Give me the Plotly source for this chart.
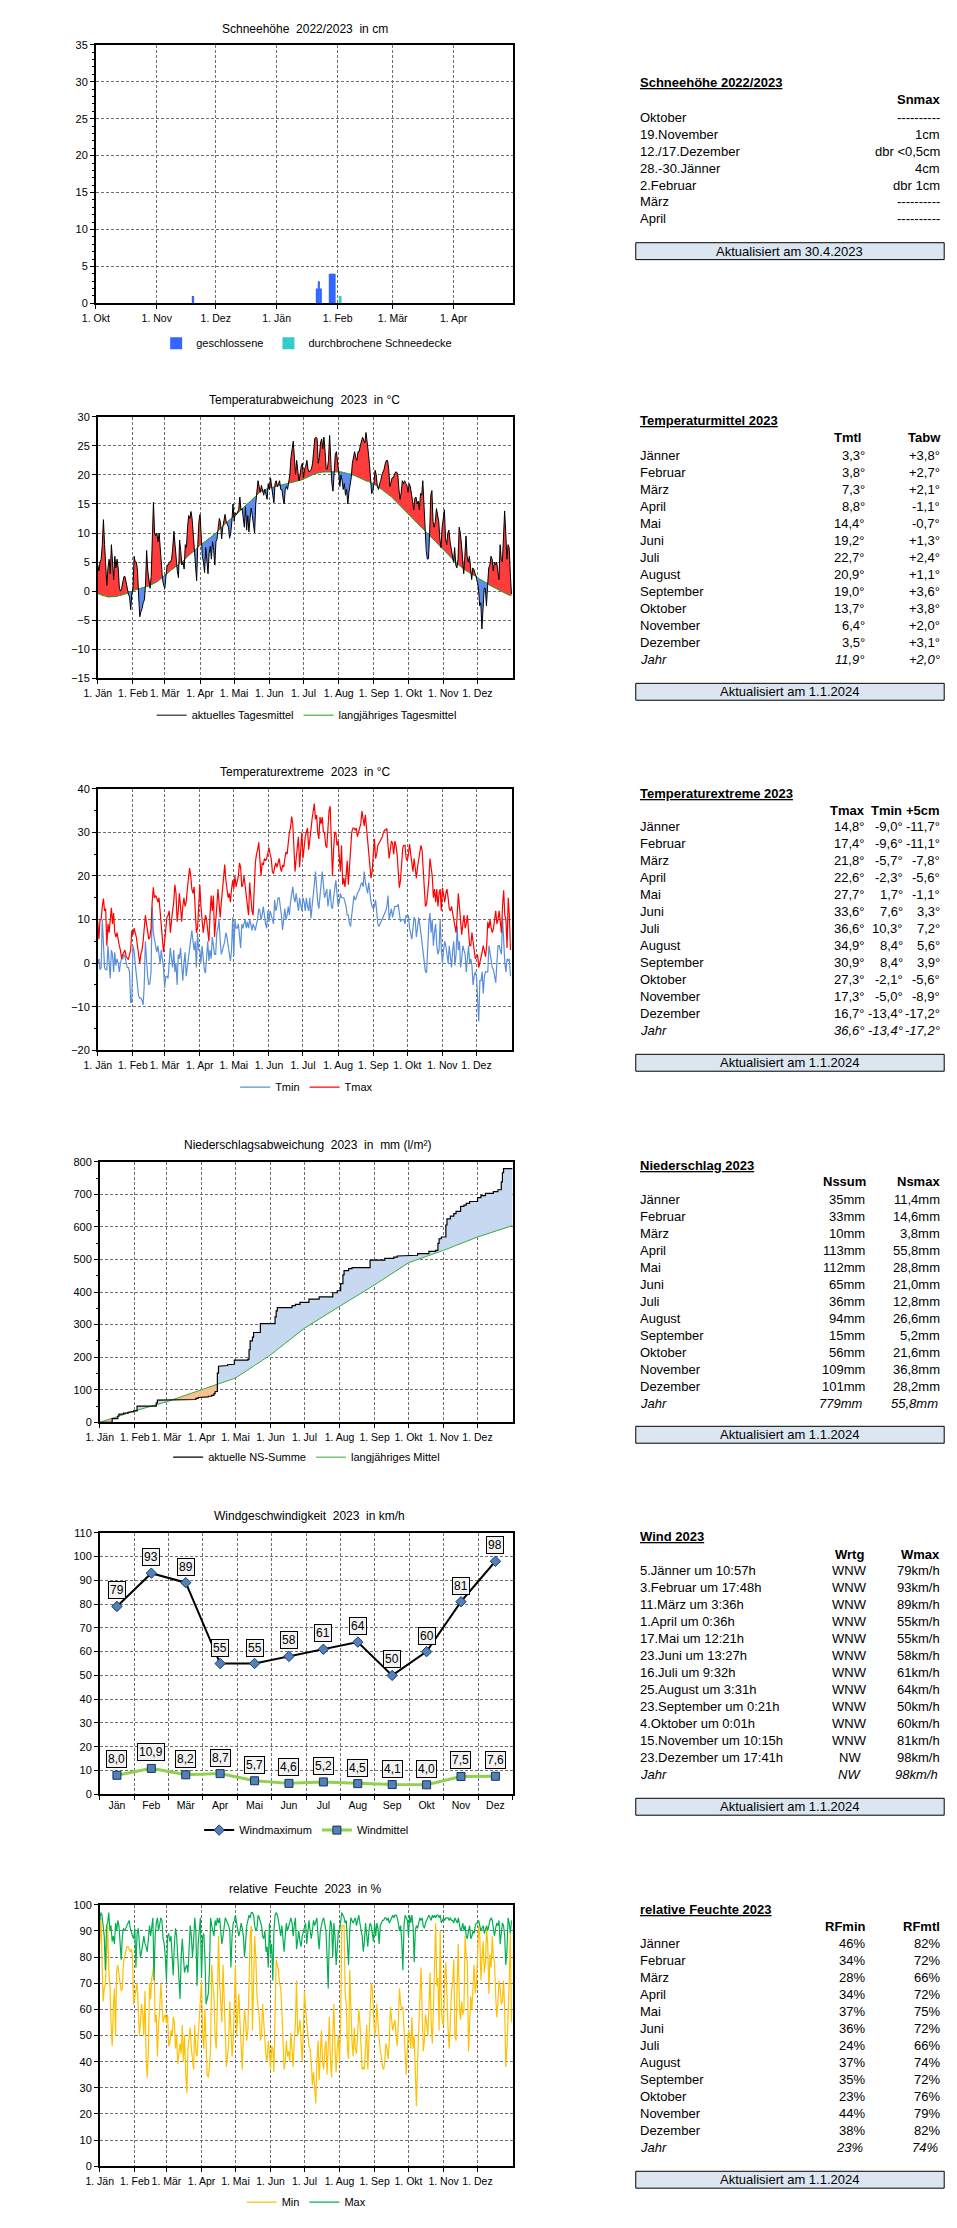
import numpy as np
import pandas as pd
import plotly.graph_objects as go

W, H = 957, 2228
FONT_CHART = "Liberation Sans Narrow, Arial Narrow, Liberation Sans, Arial, sans-serif"
FONT_TABLE = "Liberation Sans, Arial, sans-serif"

# ------------------------------------------------------------------ data
snow_tickvals = ["2022-10-01", "2022-11-01", "2022-12-01", "2023-01-01", "2023-02-01", "2023-03-01", "2023-04-01"]
snow_ticktext = ["1. Okt", "1. Nov", "1. Dez", "1. Jän", "1. Feb", "1. Mär", "1. Apr"]
snow_closed_dates = ["2022-11-19", "2023-01-21", "2023-01-22", "2023-01-23", "2023-01-28", "2023-01-29", "2023-01-30"]
snow_closed_cm = [1, 2, 3, 2, 4, 4, 4]
snow_broken_dates = ["2023-02-02"]
snow_broken_cm = [1]

year_tickvals = ["2023-01-01", "2023-02-01", "2023-03-01", "2023-04-01", "2023-05-01", "2023-06-01",
                 "2023-07-01", "2023-08-01", "2023-09-01", "2023-10-01", "2023-11-01", "2023-12-01"]
year_ticktext = ["1. Jän", "1. Feb", "1. Mär", "1. Apr", "1. Mai", "1. Jun", "1. Jul", "1. Aug",
                 "1. Sep", "1. Okt", "1. Nov", "1. Dez"]

tmean_daily = [
    4.5, 3.5, 5, 5.5, 8, 12.3, 8, 4, 1, 4, 5.5, 3, 8, 5, 2, 6, 4, 5.5, 4, 0.5, 0, 0.5, 1.5, 2.5, 2.5, 1.5, 0, -0.5, -1, -3.2, -0.5,
    0.5, 6, 5, 5, 3.5, -1, -4.4, -3.5, -3, -2, -1.5, 1, 7, 3.5, 2, 0.5, 2.5, 9, 15.3, 10, 9.5, 10, 8.5, 10, 7, 3, 2, 1,
    0.5, 2.5, 4.5, 4.5, 5, 5, 5.5, 7.5, 10.3, 8, 5, 3.5, 2.3, 8.8, 7, 4.5, 5, 3.8, 8, 7.5, 11, 13, 12.5, 13.7, 12.5, 10, 7.5, 4.5, 1.8, 8, 12,
    13.2, 9, 6, 5, 3.2, 7.5, 5, 3, 6.5, 7.7, 5.5, 8.5, 7, 4.5, 8.5, 9, 11, 12.5, 11.8, 9, 11, 12, 13.2, 12, 11.5, 11, 9.1, 10, 12, 15,
    12, 13.5, 13.2, 13.5, 14, 16.2, 14, 14.2, 13, 11, 14.5, 10.5, 13, 10.2, 12.5, 14.3, 13, 11, 10, 15, 17.5, 19, 18, 17, 18.2, 17, 16.5, 17.5, 16.5, 15.8, 18.5,
    17.5, 19.5, 17.5, 16.5, 15.2, 18.5, 19, 18, 18.5, 19, 17.5, 17.5, 16, 15, 17.5, 18, 17.5, 18.5, 20, 23, 24.5, 25.8, 23, 20, 22.5, 21, 19, 20, 21.5, 22,
    19.5, 21, 21.5, 22.5, 21, 20.5, 20.8, 21, 22, 24, 26.3, 26.5, 26.2, 22, 23, 25.5, 26.2, 24.5, 26.5, 24, 21, 21, 22.5, 26.8, 21, 18.5, 17.2, 21, 23.5, 24, 22.5,
    20.5, 18, 20, 19, 17.5, 18.5, 16.5, 17.5, 15, 17, 18, 19.5, 22, 23, 24, 23, 22.5, 24, 24, 25, 26, 26.5, 26, 25.5, 27.3, 26, 24, 22, 19, 16.8, 17.2,
    18.5, 20.8, 20, 18, 17.5, 18.5, 19, 20, 20.5, 21, 22, 22.5, 22.5, 21, 18, 19, 19.5, 19.5, 20, 20.5, 20.5, 20, 17.5, 15.8, 17, 19, 18.5, 19, 18.5, 18.2,
    17, 18.5, 18, 17, 15.5, 14, 16, 16.2, 15, 15.5, 14, 16.8, 16.5, 19, 14, 10, 7, 5.5, 5.6, 10, 16.5, 17.3, 12, 11, 12, 14.2, 13, 12, 9, 7.5, 11,
    12.5, 14, 9, 8, 10, 10.5, 8.5, 7, 6, 5, 7.5, 4.5, 4, 5.5, 11, 10, 8, 5.5, 3, 6, 9.5, 6, 5, 6, 4, 2, 4, 3.7, 3, 2.5,
    1.5, 0.5, -2.5, -2, -6.5, -2, 0.5, 0.5, -2.5, 1, 4, 4.5, 6, 5.5, 3.5, 5, 4.5, 5, 3.5, 2, 8, 5.5, 5, 9, 13.8, 10, 5.5, 8, 7.5, 3, -0.5,
]
tmean_normal_daily = [
    -0.4, -0.5, -0.6, -0.7, -0.7, -0.8, -0.8, -0.9, -0.9, -1.0, -1.0, -1.0, -1.0, -1.0, -1.0, -0.9, -0.9, -0.9, -0.8, -0.8, -0.7, -0.7, -0.6, -0.6, -0.5, -0.4, -0.4, -0.3, -0.2, -0.1, 0.0,
    0.1, 0.1, 0.2, 0.3, 0.3, 0.4, 0.5, 0.5, 0.6, 0.6, 0.7, 0.7, 0.8, 0.8, 0.9, 0.9, 1.0, 1.1, 1.2, 1.3, 1.4, 1.6, 1.7, 1.9, 2.0, 2.2, 2.4, 2.6,
    2.7, 2.9, 3.0, 3.2, 3.4, 3.5, 3.7, 3.8, 4.0, 4.1, 4.3, 4.4, 4.6, 4.7, 4.9, 5.0, 5.2, 5.4, 5.5, 5.7, 5.9, 6.1, 6.3, 6.5, 6.6, 6.8, 7.0, 7.2, 7.4, 7.6, 7.7,
    7.9, 8.0, 8.2, 8.3, 8.5, 8.6, 8.8, 8.9, 9.1, 9.2, 9.4, 9.5, 9.7, 9.9, 10.0, 10.2, 10.4, 10.6, 10.8, 11.0, 11.2, 11.4, 11.6, 11.8, 12.0, 12.1, 12.3, 12.4, 12.6, 12.7,
    12.9, 13.0, 13.2, 13.4, 13.5, 13.7, 13.9, 14.1, 14.3, 14.5, 14.7, 14.9, 15.1, 15.2, 15.4, 15.6, 15.8, 16.0, 16.2, 16.4, 16.6, 16.8, 16.9, 17.1, 17.2, 17.3, 17.4, 17.5, 17.6, 17.6, 17.7,
    17.7, 17.8, 17.8, 17.9, 17.9, 18.0, 18.0, 18.1, 18.1, 18.2, 18.2, 18.3, 18.3, 18.4, 18.4, 18.5, 18.5, 18.6, 18.6, 18.7, 18.7, 18.8, 18.8, 18.9, 18.9, 19.0, 19.0, 19.1, 19.1, 19.2,
    19.3, 19.4, 19.5, 19.6, 19.7, 19.8, 19.9, 20.0, 20.1, 20.2, 20.2, 20.3, 20.3, 20.4, 20.4, 20.4, 20.5, 20.5, 20.5, 20.5, 20.5, 20.6, 20.6, 20.6, 20.6, 20.6, 20.6, 20.6, 20.6, 20.6, 20.6,
    20.6, 20.6, 20.5, 20.5, 20.4, 20.4, 20.3, 20.3, 20.2, 20.2, 20.1, 20.1, 20.0, 20.0, 19.9, 19.8, 19.7, 19.6, 19.5, 19.5, 19.4, 19.3, 19.2, 19.1, 19.0, 18.9, 18.9, 18.8, 18.7, 18.7, 18.6,
    18.5, 18.4, 18.2, 18.1, 17.9, 17.8, 17.6, 17.5, 17.3, 17.2, 17.0, 16.9, 16.7, 16.6, 16.4, 16.3, 16.1, 15.9, 15.7, 15.5, 15.3, 15.1, 14.9, 14.7, 14.5, 14.3, 14.1, 13.9, 13.7, 13.5,
    13.3, 13.1, 12.9, 12.7, 12.5, 12.3, 12.1, 11.9, 11.7, 11.5, 11.3, 11.1, 10.9, 10.7, 10.5, 10.3, 10.1, 9.9, 9.7, 9.5, 9.3, 9.1, 8.9, 8.7, 8.5, 8.3, 8.1, 7.9, 7.7, 7.5, 7.3,
    7.1, 6.9, 6.7, 6.5, 6.3, 6.1, 5.9, 5.7, 5.5, 5.3, 5.1, 4.9, 4.8, 4.6, 4.4, 4.3, 4.1, 4.0, 3.8, 3.7, 3.5, 3.4, 3.3, 3.2, 3.0, 2.9, 2.8, 2.7, 2.6, 2.5,
    2.4, 2.2, 2.1, 2.0, 1.9, 1.8, 1.6, 1.5, 1.4, 1.3, 1.1, 1.0, 0.9, 0.8, 0.6, 0.5, 0.4, 0.3, 0.2, 0.1, 0.0, -0.1, -0.2, -0.3, -0.4, -0.5, -0.6, -0.6, -0.7, -0.7, -0.8,
]
tmax_daily = [
    9.5, 5.5, 10, 10, 13, 14.8, 12, 12.5, 4, 9, 7, 10, 12.7, 9, 11.5, 7, 6, 7, 5, 4, 3, 1, 2, 2.5, 3, 1.5, 1, 0.8, 2, 3, 7.5,
    6.5, 8, 7, 6, 4, 1, 0, 2, 3, 5, 8, 11, 9, 7, 5.5, 6, 8, 14, 17.4, 15, 15.5, 15, 14, 15, 12, 9, 6, 2.5,
    5, 8.5, 10.5, 11, 12, 7, 10, 12, 14, 18, 16, 9.5, 12, 16, 13, 9.5, 13, 15, 13, 14, 17, 19, 21.8, 20, 17, 16, 17.5, 12, 7, 8, 14,
    18, 13, 9, 7, 9, 11, 10, 8, 5, 11, 15.5, 12, 15.5, 6, 11, 13, 17, 14, 10.5, 14, 17, 20, 22.6, 19, 17, 15, 16, 14, 17, 19,
    17, 20, 17.5, 18.5, 20, 23, 22, 17.5, 18, 20, 18, 15, 13, 11, 18.5, 14, 12, 11, 17, 23, 25, 26, 27.7, 24, 20, 23, 22.5, 24, 23.5, 24, 25,
    26.5, 25, 24, 21, 20.5, 22, 23, 22, 23, 24, 22, 21, 22.5, 22, 24, 25.5, 25, 28, 30, 31, 33.6, 32, 27, 21, 24, 26, 29, 22, 26, 30,
    24, 27, 29, 30, 31, 26, 29, 30.5, 33, 35, 36.6, 33, 34, 30, 28.5, 33.5, 32, 33.5, 30, 30, 27, 26.5, 32, 35, 36, 27, 20, 26, 30, 30, 27,
    28, 25, 21, 27, 18, 19.5, 17.5, 20, 23.5, 18, 22, 27, 30, 31, 31, 30.5, 31, 29, 30, 31, 32, 34.9, 33, 31.5, 34, 31, 28, 24, 22, 19.5, 21,
    25, 28.5, 24, 25, 27, 27.5, 28, 28.5, 29, 30, 30.5, 30.5, 30.9, 27, 24, 26, 28, 27.5, 25, 28, 27, 25, 22, 17.3, 19, 24, 26.5, 27, 27, 24,
    23.5, 25, 27.3, 25, 22, 21, 24, 22, 19.5, 22, 24, 26, 27, 26, 21, 15, 13, 13.5, 16, 19, 24, 22, 20, 15, 17, 14, 17, 13, 16, 17, 12,
    17.3, 15, 14, 16, 17, 15, 12.5, 12, 13, 11.5, 10, 9, 7, 11, 16, 13, 9, 6.5, 9, 11, 8, 9, 11, 8, 4, 4, 7, 5, 3, 1,
    1.5, 2, -1, 0, 1, 2.5, 4, 3, 1.5, 4, 9.5, 8, 10, 8, 7, 8, 11, 12, 9, 10, 12, 9, 7, 13, 16.7, 11, 10, 3.5, 15, 11, 3,
]
tmin_daily = [
    0, 1, -1.5, -1, 10, 3, -1, -1.5, -1.5, 4, 1, -3.5, 3, 2, -2, 2.5, -0.5, 1, 0, -2, 0, 1, 1, 2, 1.5, 0, -1, -1, -2, -9, -9,
    4, 3, 0, -2, -5, -7.5, -8, -8, -8.5, -9.6, -5, 5, -1, -3, -5, -4.5, -2, 13, 7, 5, 4, 2.5, 4, 2, 0, 3, 1, -1,
    -5.7, -3, -3, -3.5, 0, 3.5, 1, -1, 3, -2, 0, -5, 2, 1, 3.5, -1, -4, 0, 2.5, -3, -1, 2, 4, 5, 7.5, 5, 3, 5, -1, 7, 3,
    3, 0, 4, 1, -1.5, -2.3, 2, 5, 0.5, 3, 1, 6, 4, 2, 2, 7, 8, 10, 5, 2, 3, 4, 5, 7, 6, 4, 2, 0.5, 3, 10.5,
    1.7, 10, 8, 8, 9, 5, 3.5, 9, 8, 9, 10, 8, 9.5, 8, 10, 9, 7.5, 9, 8, 7.5, 9, 10, 12.5, 12, 10, 11, 13, 10, 9, 8, 12,
    9.5, 12, 11, 10, 9, 14.5, 12, 13, 15, 15, 13, 11, 7.6, 10, 12.5, 10, 11, 13, 11, 14, 16, 17.5, 15, 14, 16, 13, 12, 15, 13, 12,
    15, 14, 12, 15, 13, 12, 15, 10.3, 13, 15, 18, 21, 17, 14, 12.5, 15, 18, 21, 18, 15, 16, 17, 13, 15, 17, 13, 12.5, 15, 17, 19, 16,
    13, 14, 16, 15, 15, 15, 14, 13, 11, 11, 9, 8.4, 11, 13, 15.5, 14.5, 15, 16, 16.5, 17, 18, 18.5, 17.5, 21, 18.5, 17, 16, 18.5, 16, 14, 13,
    12.5, 13, 14.5, 12, 9, 8.4, 9, 9.5, 10, 10.5, 11, 12, 13, 15.5, 10, 11, 12.5, 10.5, 12, 13, 13, 13, 13.5, 12, 9.5, 10, 10, 10, 9, 11,
    10.5, 11, 8, 7, 5.5, 8, 10.5, 10, 6, 8, 10.5, 9, 7, 4, 2, 0, -2, -2.1, 5, 9, 11.5, 7, 10, 4, 7, 9, 4, 2, 3, 10, 3,
    0, 3, 5, 4, 2, 0, 4, 1, -1, 3, 5, -0.5, 2, 8.5, 3, 5, -1, 1, 4, 3, 2, -2, 1, 4, 0, 1, -0.5, -5, -3, -2,
    -3, -8, -13.4, -4, -4, -2, -7, -3, -2, -2, -2, 4, 2, 0, -1, -1.5, -3, -4.5, 0, 4, 4, 3, 2, 10.5, 4, 0, -2, 1, 0.5, 1, -3,
]

precip_event_day = [12, 17, 18, 22, 26, 29, 31,
                    34, 51, 52,
                    84, 86, 88, 89,
                    97, 100, 102, 103, 104, 105, 106, 110, 114, 117, 120,
                    132, 133, 134, 136, 137, 143,
                    156, 157, 158, 171, 174, 178,
                    186, 195, 207, 211,
                    214, 216, 217, 221, 224, 240,
                    253, 261, 264, 270,
                    282, 292, 298, 300, 301, 303,
                    307, 308, 311, 314, 316, 320, 323, 325, 328,
                    335, 338, 342, 349, 353, 356, 357, 358]
precip_event_mm = [11.4, 8, 6, 3, 2.5, 2, 2.1,
                   14.6, 10, 8.4,
                   2, 3.8, 2.5, 1.7,
                   2, 3, 5, 6, 1, 55.8, 21.5, 2, 2.5, 1.5, 12.7,
                   3, 28.8, 27, 12, 14, 27.2,
                   21, 18, 10, 6, 4, 6,
                   10, 7, 12.8, 6.2,
                   22, 26.6, 13.4, 6, 3, 23,
                   5.2, 4, 3.5, 2.3,
                   5, 7, 3, 21.6, 14, 5.4,
                   36.8, 19, 8, 8, 7, 15, 4, 5.2, 6,
                   12, 6, 7, 5, 6, 24, 28.2, 12.8]
precip_normal_monthly = [35, 28, 37, 36, 71, 82, 67, 66, 68, 38, 41, 35]
month_start_doy = [0, 31, 59, 90, 120, 151, 181, 212, 243, 273, 304, 334, 365]

wind_months = ["Jän", "Feb", "Mär", "Apr", "Mai", "Jun", "Jul", "Aug", "Sep", "Okt", "Nov", "Dez"]
wind_max = [79, 93, 89, 55, 55, 58, 61, 64, 50, 60, 81, 98]
wind_mean = [8.0, 10.9, 8.2, 8.7, 5.7, 4.6, 5.2, 4.5, 4.1, 4.0, 7.5, 7.6]

rh_min_daily = [
    85, 95, 80, 63, 68, 70, 80, 92, 75, 69, 55, 46, 60, 68, 50, 75, 77, 72, 70, 67, 68, 78, 81, 82, 84, 84, 83, 82, 83, 80, 62,
    65, 68, 70, 62, 50, 55, 62, 58, 50, 67, 42, 34, 44, 70, 64, 72, 74, 79, 55, 58, 42, 54, 60, 70, 62, 55, 57, 58,
    55, 58, 46, 47, 52, 50, 57, 55, 45, 50, 39, 44, 47, 43, 54, 40, 50, 36, 28, 45, 50, 53, 45, 40, 37, 54, 44, 42, 50, 58, 66,
    71, 50, 45, 60, 48, 35, 34, 38, 45, 77, 70, 65, 50, 45, 62, 88, 70, 63, 55, 77, 65, 55, 38, 42, 47, 63, 55, 42, 48, 62,
    77, 50, 60, 66, 55, 45, 37, 50, 60, 55, 48, 52, 70, 88, 92, 52, 70, 88, 80, 65, 61, 58, 48, 50, 62, 55, 47, 42, 40, 48, 44,
    37, 46, 45, 36, 55, 79, 77, 75, 70, 68, 60, 50, 37, 40, 48, 42, 44, 40, 51, 45, 38, 48, 55, 71, 50, 52, 56, 48, 40, 52,
    67, 60, 55, 50, 46, 45, 40, 31, 36, 30, 24, 40, 48, 33, 42, 52, 40, 37, 45, 48, 35, 45, 57, 40, 34, 50, 62, 45, 36, 45, 50,
    40, 55, 92, 92, 92, 66, 62, 45, 41, 75, 60, 48, 42, 53, 45, 43, 50, 60, 55, 45, 37, 38, 37, 45, 54, 37, 50, 63, 70, 68, 55,
    50, 52, 62, 55, 47, 44, 42, 38, 37, 40, 47, 45, 41, 48, 61, 55, 52, 54, 56, 50, 46, 55, 68, 62, 60, 61, 50, 45, 35, 45,
    52, 50, 45, 57, 45, 50, 35, 23, 40, 50, 60, 76, 60, 44, 48, 58, 55, 50, 60, 74, 55, 47, 60, 80, 93, 69, 72, 52, 90, 60, 55,
    54, 72, 78, 60, 52, 45, 55, 67, 70, 79, 50, 48, 70, 85, 60, 56, 63, 58, 60, 88, 80, 78, 44, 55, 65, 60, 72, 77, 66, 70,
    80, 92, 88, 71, 80, 86, 74, 78, 91, 85, 66, 81, 76, 88, 80, 78, 66, 57, 62, 71, 68, 62, 63, 71, 60, 38, 45, 55, 70, 89, 55,
]
rh_max_daily = [
    94, 97, 96, 92, 88, 75, 92, 93, 97, 90, 92, 86, 88, 85, 93, 90, 94, 92, 85, 79, 88, 91, 90, 91, 92, 93, 94, 91, 89, 88, 87,
    91, 76, 89, 91, 85, 80, 82, 86, 88, 85, 84, 82, 86, 92, 88, 93, 95, 71, 88, 93, 95, 90, 92, 95, 94, 87, 85, 80,
    71, 88, 89, 86, 88, 80, 73, 85, 91, 88, 80, 72, 64, 80, 87, 80, 74, 76, 77, 74, 85, 92, 88, 80, 86, 95, 90, 69, 85, 90, 95,
    72, 88, 89, 80, 62, 64, 66, 75, 95, 92, 90, 88, 94, 92, 95, 93, 95, 90, 85, 88, 93, 95, 94, 93, 92, 90, 76, 88, 93, 94,
    96, 93, 90, 88, 90, 93, 91, 88, 80, 86, 92, 94, 96, 95, 97, 97, 96, 92, 90, 91, 96, 95, 93, 92, 88, 87, 90, 82, 84, 76, 93,
    81, 85, 71, 90, 96, 97, 96, 94, 90, 88, 92, 85, 82, 88, 93, 90, 92, 94, 95, 93, 88, 92, 95, 83, 88, 90, 86, 84, 88, 90,
    92, 93, 85, 90, 94, 90, 87, 90, 94, 92, 94, 95, 88, 83, 90, 93, 94, 95, 92, 90, 80, 68, 88, 94, 92, 80, 93, 88, 77, 85, 90,
    90, 95, 97, 96, 95, 93, 94, 85, 77, 90, 95, 94, 93, 94, 95, 92, 95, 96, 93, 90, 88, 82, 86, 93, 88, 84, 90, 93, 92, 88, 86,
    93, 88, 93, 91, 85, 92, 93, 94, 94, 95, 95, 94, 95, 93, 94, 95, 96, 95, 96, 96, 95, 93, 90, 92, 86, 75, 92, 96, 95, 94,
    88, 96, 93, 96, 92, 78, 90, 92, 91, 93, 95, 94, 95, 92, 91, 93, 94, 95, 96, 95, 94, 96, 95, 96, 95, 96, 96, 95, 96, 93, 94,
    95, 94, 95, 95, 95, 94, 95, 94, 94, 93, 95, 94, 93, 95, 92, 90, 91, 93, 90, 92, 88, 87, 90, 92, 87, 88, 90, 89, 92, 93,
    93, 94, 92, 90, 91, 92, 89, 91, 92, 90, 93, 94, 95, 94, 91, 88, 91, 93, 92, 94, 85, 90, 93, 92, 88, 77, 82, 95, 93, 89, 94,
]

# ---- table data
month_names = ["Jänner", "Februar", "März", "April", "Mai", "Juni", "Juli", "August",
               "September", "Oktober", "November", "Dezember"]
snow_table_labels = ["Oktober", "19.November", "12./17.Dezember", "28.-30.Jänner", "2.Februar", "März", "April"]
snow_table_values = ["----------", "1cm", "dbr &lt;0,5cm", "4cm", "dbr 1cm", "----------", "----------"]
tmtl = [3.3, 3.8, 7.3, 8.8, 14.4, 19.2, 22.7, 20.9, 19.0, 13.7, 6.4, 3.5]
tabw = [3.8, 2.7, 2.1, -1.1, -0.7, 1.3, 2.4, 1.1, 3.6, 3.8, 2.0, 3.1]
tmtl_year, tabw_year = 11.9, 2.0
tmax_month = [14.8, 17.4, 21.8, 22.6, 27.7, 33.6, 36.6, 34.9, 30.9, 27.3, 17.3, 16.7]
tmin_month = [-9.0, -9.6, -5.7, -2.3, 1.7, 7.6, 10.3, 8.4, 8.4, -2.1, -5.0, -13.4]
t5cm_month = [-11.7, -11.1, -7.8, -5.6, -1.1, 3.3, 7.2, 5.6, 3.9, -5.6, -8.9, -17.2]
tex_year = [36.6, -13.4, -17.2]
nssum = [35, 33, 10, 113, 112, 65, 36, 94, 15, 56, 109, 101]
nsmax = [11.4, 14.6, 3.8, 55.8, 28.8, 21.0, 12.8, 26.6, 5.2, 21.6, 36.8, 28.2]
ns_year = [779, 55.8]
wind_when = ["5.Jänner um 10:57h", "3.Februar um 17:48h", "11.März um 3:36h", "1.April um 0:36h",
             "17.Mai um 12:21h", "23.Juni um 13:27h", "16.Juli um 9:32h", "25.August um 3:31h",
             "23.September um 0:21h", "4.Oktober um 0:01h", "15.November um 10:15h", "23.Dezember um 17:41h"]
wind_dir = ["WNW", "WNW", "WNW", "WNW", "WNW", "WNW", "WNW", "WNW", "WNW", "WNW", "WNW", "NW"]
wind_year = ["NW", 98]
rf_min = [46, 34, 28, 34, 37, 36, 24, 37, 35, 23, 44, 38]
rf_mtl = [82, 72, 66, 72, 75, 72, 66, 74, 72, 76, 79, 82]
rf_year = [23, 74]

# ------------------------------------------------------------------ helpers
def dc(v, nd=1):
    return f"{v:.{nd}f}".replace(".", ",")

def dom_x(a, b):
    return [a / W, b / W]

def dom_y(top, bottom):
    return [1 - bottom / H, 1 - top / H]

def split_fill(x, a, b):
    xs, hi, lo, base = [], [], [], []
    for i in range(len(x)):
        if i > 0:
            d0 = a[i - 1] - b[i - 1]
            d1 = a[i] - b[i]
            if d0 * d1 < 0:
                t = d0 / (d0 - d1)
                xc = x[i - 1] + t * (x[i] - x[i - 1])
                yc = b[i - 1] + t * (b[i] - b[i - 1])
                xs.append(xc); hi.append(yc); lo.append(yc); base.append(yc)
        xs.append(x[i]); hi.append(max(a[i], b[i])); lo.append(min(a[i], b[i])); base.append(b[i])
    return np.array(xs), np.array(hi), np.array(lo), np.array(base)

T0 = pd.Timestamp("2023-01-01")
fig = go.Figure()
annotations, shapes = [], []

GRID = dict(showgrid=True, gridcolor="#707070", gridwidth=1, griddash="3px,2px")
LINE = dict(showline=True, linecolor="black", linewidth=1.5, mirror=True, zeroline=False,
            ticks="outside", ticklen=4, tickwidth=1, tickcolor="black")
XFONT = dict(family=FONT_CHART, size=10.5, color="black")
YFONT = dict(family=FONT_CHART, size=11, color="black")

def xdate(dom, anchor, rng, tv, tt):
    return dict(domain=dom, anchor=anchor, type="date", range=rng, tickmode="array",
                tickvals=tv, ticktext=tt, tickangle=0, tickfont=XFONT, **GRID, **LINE)

def ylin(dom, anchor, rng, dtick, minor=None):
    d = dict(domain=dom, anchor=anchor, range=rng, dtick=dtick, tick0=0, tickfont=YFONT, **GRID, **LINE)
    if minor:
        d["minor"] = dict(dtick=minor, ticks="outside", ticklen=2, tickcolor="black", showgrid=False)
    return d

def chart_title(text, xc, y):
    annotations.append(dict(xref="paper", yref="paper", x=xc / W, y=1 - y / H, xanchor="center",
                            yanchor="middle", text=text, showarrow=False,
                            font=dict(family=FONT_CHART, size=12, color="black")))

def legend_at(y):
    return dict(orientation="h", x=297 / W, xanchor="center", y=1 - y / H, yanchor="middle",
                font=dict(family=FONT_CHART, size=11, color="black"), bgcolor="rgba(0,0,0,0)",
                itemwidth=30, traceorder="normal")

def tann(text, x, y, anchor="left"):
    annotations.append(dict(xref="paper", yref="paper", x=x / W, y=1 - y / H, xanchor=anchor,
                            yanchor="middle", text=text, showarrow=False,
                            font=dict(family=FONT_TABLE, size=13, color="black")))

def table(title, title_y, headers, header_y, labels, cols, row_y0, step, jahr, box_y, box_text):
    tann(f"<b><u>{title}</u></b>", 633, title_y)
    for txt, hx, anc in headers:
        tann(f"<b>{txt}</b>", hx, header_y, anc)
    for k, lab in enumerate(labels):
        y = row_y0 + k * step
        tann(lab, 633, y)
        for (vals, vx, anc) in cols:
            tann(vals[k], vx, y, anc)
    if jahr is not None:
        y = row_y0 + len(labels) * step
        tann("<i>Jahr</i>", 633, y)
        for (txt, vx, anc) in jahr:
            tann(f"<i>{txt}</i>", vx, y, anc)
    shapes.append(dict(type="rect", xref="paper", yref="paper", x0=631 / W, x1=944 / W,
                       y0=1 - (box_y + 17) / H, y1=1 - box_y / H, fillcolor="#DCE6F1",
                       line=dict(color="black", width=1)))
    tann(box_text, 787.5, box_y + 8.5, "center")

# ------------------------------------------------------------------ panel 1 snow
fig.add_trace(go.Bar(x=pd.to_datetime(snow_closed_dates) + pd.Timedelta(hours=12), y=snow_closed_cm,
                     width=86400000, marker=dict(color="#3366FF", line=dict(width=0)),
                     name="geschlossene", xaxis="x", yaxis="y", legend="legend"))
fig.add_trace(go.Bar(x=pd.to_datetime(snow_broken_dates) + pd.Timedelta(hours=12), y=snow_broken_cm,
                     width=86400000, marker=dict(color="#33CCCC", line=dict(width=0)),
                     name="durchbrochene Schneedecke", xaxis="x", yaxis="y", legend="legend"))
chart_title("Schneehöhe  2022/2023  in cm", 295, 23)

# ------------------------------------------------------------------ panel 2 temperature deviation
n2 = min(len(tmean_daily), len(tmean_normal_daily))
a2 = np.array(tmean_daily[:n2], float)
b2 = np.array(tmean_normal_daily[:n2], float)
days2 = T0 + pd.to_timedelta(np.arange(n2), unit="D")
fx, fhi, flo, fbase = split_fill(np.arange(n2, dtype=float), a2, b2)
fdates = T0 + pd.to_timedelta(fx, unit="D")
for yy, col in ((fhi, "#FF3B3B"), (flo, "#5E8DF2")):
    fig.add_trace(go.Scatter(x=fdates, y=fbase, mode="lines", line=dict(width=0), showlegend=False,
                             hoverinfo="skip", xaxis="x2", yaxis="y2"))
    fig.add_trace(go.Scatter(x=fdates, y=yy, mode="lines", line=dict(width=0), fill="tonexty",
                             fillcolor=col, showlegend=False, hoverinfo="skip", xaxis="x2", yaxis="y2"))
fig.add_trace(go.Scatter(x=days2, y=b2, mode="lines", line=dict(color="#1E9E1E", width=1),
                         name="langjähriges Tagesmittel", legend="legend2", legendrank=2,
                         xaxis="x2", yaxis="y2"))
fig.add_trace(go.Scatter(x=days2, y=a2, mode="lines", line=dict(color="black", width=1),
                         name="aktuelles Tagesmittel", legend="legend2", legendrank=1,
                         xaxis="x2", yaxis="y2"))
chart_title("Temperaturabweichung  2023  in °C", 295, 396)

# ------------------------------------------------------------------ panel 3 extremes
fig.add_trace(go.Scatter(x=T0 + pd.to_timedelta(np.arange(len(tmin_daily)), unit="D"), y=tmin_daily,
                         mode="lines", line=dict(color="#5A8FDC", width=1.2), name="Tmin",
                         legend="legend3", xaxis="x3", yaxis="y3"))
fig.add_trace(go.Scatter(x=T0 + pd.to_timedelta(np.arange(len(tmax_daily)), unit="D"), y=tmax_daily,
                         mode="lines", line=dict(color="#FF0000", width=1.2), name="Tmax",
                         legend="legend3", xaxis="x3", yaxis="y3"))
chart_title("Temperaturextreme  2023  in °C", 296, 770)

# ------------------------------------------------------------------ panel 4 precipitation
daily_p = np.zeros(365)
for d, mm in zip(precip_event_day, precip_event_mm):
    daily_p[d - 1] += mm
cum_p = np.cumsum(daily_p)
sx, sy = [], []
for i in range(365):
    sx += [i, i + 1]
    sy += [cum_p[i], cum_p[i]]
sx = np.array(sx, float); sy = np.array(sy, float)
norm_cum = np.concatenate([[0], np.cumsum(precip_normal_monthly)])
norm_at = np.interp(sx, month_start_doy, norm_cum)
px_, phi, plo, pbase = split_fill(sx, sy, norm_at)
pdates = T0 + pd.to_timedelta(px_, unit="D")
for yy, col in ((phi, "#C6D9F1"), (plo, "#FAC090")):
    fig.add_trace(go.Scatter(x=pdates, y=pbase, mode="lines", line=dict(width=0), showlegend=False,
                             hoverinfo="skip", xaxis="x4", yaxis="y4"))
    fig.add_trace(go.Scatter(x=pdates, y=yy, mode="lines", line=dict(width=0), fill="tonexty",
                             fillcolor=col, showlegend=False, hoverinfo="skip", xaxis="x4", yaxis="y4"))
fig.add_trace(go.Scatter(x=T0 + pd.to_timedelta(np.array(month_start_doy), unit="D"), y=norm_cum,
                         mode="lines", line=dict(color="#3BAA3B", width=1), name="langjähriges Mittel",
                         legend="legend4", legendrank=2, xaxis="x4", yaxis="y4"))
fig.add_trace(go.Scatter(x=T0 + pd.to_timedelta(sx, unit="D"), y=sy, mode="lines",
                         line=dict(color="black", width=1.2), name="aktuelle NS-Summe",
                         legend="legend4", legendrank=1, xaxis="x4", yaxis="y4"))
chart_title("Niederschlagsabweichung  2023  in  mm (l/m²)", 298, 1145)

# ------------------------------------------------------------------ panel 5 wind
fig.add_trace(go.Scatter(x=wind_months, y=wind_max, mode="lines+markers",
                         line=dict(color="black", width=2),
                         marker=dict(symbol="diamond", size=8, color="#4F81BD", line=dict(color="#1F3864", width=1)),
                         name="Windmaximum", legend="legend5", xaxis="x5", yaxis="y5"))
fig.add_trace(go.Scatter(x=wind_months, y=wind_mean, mode="lines+markers",
                         line=dict(color="#92D050", width=3),
                         marker=dict(symbol="square", size=8, color="#4F81BD", line=dict(color="#1F2F4F", width=1)),
                         name="Windmittel", legend="legend5", xaxis="x5", yaxis="y5"))
for m, v in zip(wind_months, wind_max):
    annotations.append(dict(x=m, y=v, xref="x5", yref="y5", text=str(v), showarrow=False, yshift=16,
                            xanchor="center", yanchor="middle", bgcolor="#F2F2F2", bordercolor="black",
                            borderwidth=1, borderpad=1, font=dict(family=FONT_CHART, size=12, color="black")))
for m, v in zip(wind_months, wind_mean):
    annotations.append(dict(x=m, y=v, xref="x5", yref="y5", text=dc(v), showarrow=False, yshift=16,
                            xanchor="center", yanchor="middle", bgcolor="#F2F2F2", bordercolor="black",
                            borderwidth=1, borderpad=1, font=dict(family=FONT_CHART, size=12, color="black")))
chart_title("Windgeschwindigkeit  2023  in km/h", 300, 1518)

# ------------------------------------------------------------------ panel 6 humidity
fig.add_trace(go.Scatter(x=T0 + pd.to_timedelta(np.arange(len(rh_min_daily)), unit="D"), y=rh_min_daily,
                         mode="lines", line=dict(color="#FFC000", width=1.2), name="Min",
                         legend="legend6", xaxis="x6", yaxis="y6"))
fig.add_trace(go.Scatter(x=T0 + pd.to_timedelta(np.arange(len(rh_max_daily)), unit="D"), y=rh_max_daily,
                         mode="lines", line=dict(color="#00B050", width=1.2), name="Max",
                         legend="legend6", xaxis="x6", yaxis="y6"))
chart_title("relative  Feuchte  2023  in %", 295, 1893)

# ------------------------------------------------------------------ tables
table("Schneehöhe 2022/2023", 77, [("Snmax", 942, "right")], 94, snow_table_labels,
      [(snow_table_values, 942, "right")], 112, 17.0, None, 238, "Aktualisiert am 30.4.2023")
table("Temperaturmittel 2023", 417, [("Tmtl", 862, "right"), ("Tabw", 943, "right")], 434, month_names,
      [([dc(v) + "°" for v in tmtl], 866, "right"), ([f"{v:+.1f}".replace('.', ',') + "°" for v in tabw], 942, "right")],
      452, 17.07, [(dc(tmtl_year) + "°", 866, "right"), (f"{tabw_year:+.1f}".replace('.', ',') + "°", 942, "right")],
      681, "Aktualisiert am 1.1.2024")
table("Temperaturextreme 2023", 792, [("Tmax", 866, "right"), ("Tmin", 903, "right"), ("+5cm", 942, "right")], 809,
      month_names,
      [([dc(v) + "°" for v in tmax_month], 866, "right"), ([dc(v) + "°" for v in tmin_month], 904, "right"),
       ([dc(v) + "°" for v in t5cm_month], 942, "right")],
      825, 17.1, [(dc(tex_year[0]) + "°", 866, "right"), (dc(tex_year[1]) + "°", 904, "right"),
                  (dc(tex_year[2]) + "°", 942, "right")],
      1054, "Aktualisiert am 1.1.2024")
table("Niederschlag 2023", 1166, [("Nssum", 867, "right"), ("Nsmax", 942, "right")], 1182, month_names,
      [([f"{v}mm" for v in nssum], 866, "right"), ([dc(v) + "mm" for v in nsmax], 942, "right")],
      1200, 17.1, [(f"{ns_year[0]}mm", 864, "right"), (dc(ns_year[1]) + "mm", 940, "right")],
      1428, "Aktualisiert am 1.1.2024")
table("Wind 2023", 1539, [("Wrtg", 848, "center"), ("Wmax", 942, "right")], 1557, wind_when,
      [(wind_dir, 848, "center"), ([f"{v}km/h" for v in wind_max], 942, "right")],
      1573, 17.07, [(wind_year[0], 848, "center"), (f"{wind_year[1]}km/h", 940, "right")],
      1802, "Aktualisiert am 1.1.2024")
table("relative Feuchte 2023", 1914, [("RFmin", 867, "right"), ("RFmtl", 942, "right")], 1931, month_names,
      [([f"{v}%" for v in rf_min], 866, "right"), ([f"{v}%" for v in rf_mtl], 942, "right")],
      1948, 17.1, [(f"{rf_year[0]}%", 864, "right"), (f"{rf_year[1]}%", 940, "right")],
      2177, "Aktualisiert am 1.1.2024")

# ------------------------------------------------------------------ layout
yr = ["2023-01-01", "2024-01-01"]
layout = dict(
    width=W, height=H, autosize=False, margin=dict(l=0, r=0, t=0, b=0),
    paper_bgcolor="white", plot_bgcolor="white", barmode="overlay", hovermode=False,
    annotations=annotations, shapes=shapes,
    xaxis=xdate(dom_x(83, 506), "y", ["2022-10-01", "2023-05-01"], snow_tickvals, snow_ticktext),
    yaxis=ylin(dom_y(39, 299), "x", [0, 35], 5, 1),
    xaxis2=xdate(dom_x(85, 506), "y2", yr, year_tickvals, year_ticktext),
    yaxis2=ylin(dom_y(413, 676), "x2", [-15, 30], 5),
    xaxis3=xdate(dom_x(85, 505), "y3", yr, year_tickvals, year_ticktext),
    yaxis3=ylin(dom_y(787, 1050), "x3", [-20, 40], 10, 5),
    xaxis4=xdate(dom_x(87, 506), "y4", yr, year_tickvals, year_ticktext),
    yaxis4=ylin(dom_y(1162, 1424), "x4", [0, 800], 100, 50),
    xaxis5=dict(domain=dom_x(87, 506), anchor="y5", type="category", categoryorder="array",
                categoryarray=wind_months, range=[-0.5, 11.5], tickson="boundaries", tickangle=0,
                tickfont=XFONT, **GRID, **LINE),
    yaxis5=ylin(dom_y(1535, 1798), "x5", [0, 110], 10),
    xaxis6=xdate(dom_x(87, 506), "y6", yr, year_tickvals, year_ticktext),
    yaxis6=ylin(dom_y(1909, 2172), "x6", [0, 100], 10),
    legend=legend_at(339), legend2=legend_at(713), legend3=legend_at(1087),
    legend4=legend_at(1459), legend5=legend_at(1834), legend6=legend_at(2208),
    showlegend=True,
)
fig.update_layout(**layout)
fig.write_html("out.html", config={"displayModeBar": False},
               post_script="document.body.style.margin='0';document.body.style.overflow='hidden';")
